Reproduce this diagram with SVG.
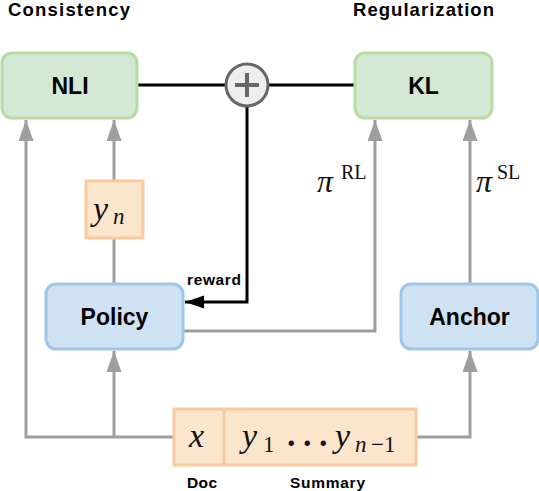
<svg xmlns="http://www.w3.org/2000/svg" width="539" height="491" viewBox="0 0 539 491">
<style>
.title{font-family:"Liberation Sans",Arial,sans-serif;font-weight:bold;font-size:18.5px;fill:#000}
.lbl{font-family:"Liberation Sans",Arial,sans-serif;font-weight:bold;font-size:23px;fill:#000;text-anchor:middle;dominant-baseline:central}
.small{font-family:"Liberation Sans",Arial,sans-serif;font-weight:bold;font-size:15.5px;fill:#000}
.math{font-family:"Liberation Serif","Times New Roman",serif;font-style:italic;fill:#111}
.rm{font-family:"Liberation Serif","Times New Roman",serif;fill:#111}
.green{fill:#d5e8d4;stroke:#b7dba6;stroke-width:3}
.blue{fill:#cfe2f3;stroke:#9fc5e8;stroke-width:3}
.orange{fill:#fce5cd;stroke:#f9cb9c;stroke-width:3}
.gray{fill:none;stroke:#9e9e9e;stroke-width:3}
.black{fill:none;stroke:#000;stroke-width:3}
</style>
<defs>
<marker id="ag" markerUnits="userSpaceOnUse" markerWidth="22" markerHeight="16" refX="21" refY="7.5" orient="auto">
<path d="M0,0 L21,7.5 L0,15 Z" fill="#9e9e9e"/>
</marker>
<marker id="ab" markerUnits="userSpaceOnUse" markerWidth="20" markerHeight="14" refX="19" refY="6.5" orient="auto">
<path d="M0,0 L19,6.5 L0,13 Z" fill="#000"/>
</marker>
</defs>
<text class="title" x="8" y="16" textLength="122">Consistency</text>
<text class="title" x="353" y="16" textLength="141">Regularization</text>
<g id="connectors">
<path class="black" d="M138,85 H226 M268,85 H355"/>
<path class="black" d="M247,106 V302 H185" marker-end="url(#ab)"/>
<path class="gray" d="M173,437 H26 V120" marker-end="url(#ag)"/>
<path class="gray" d="M114,437 V351" marker-end="url(#ag)"/>
<path class="gray" d="M114,284 V238"/>
<path class="gray" d="M114,180 V120" marker-end="url(#ag)"/>
<path class="gray" d="M183,331 H375 V120" marker-end="url(#ag)"/>
<path class="gray" d="M470,284 V120" marker-end="url(#ag)"/>
<path class="gray" d="M416,437 H470 V351" marker-end="url(#ag)"/>
<text class="small" x="187" y="285" textLength="54">reward</text>
<text class="math" x="317" y="192" font-size="32">π</text>
<text class="rm" x="341" y="179" font-size="20">RL</text>
<text class="math" x="476" y="192" font-size="32">π</text>
<text class="rm" x="497" y="179" font-size="20">SL</text>
</g>
<g id="nli">
<rect class="green" x="2" y="53" width="135" height="65" rx="10"/>
<text class="lbl" x="70" y="86">NLI</text>
</g>
<g id="plus">
<circle cx="247" cy="85" r="21" fill="#eeeeee" stroke="#666" stroke-width="3"/>
<path d="M235,85 H259 M247,73 V97" stroke="#666" stroke-width="4" fill="none"/>
</g>
<g id="kl">
<rect class="green" x="355" y="53" width="137" height="65" rx="10"/>
<text class="lbl" x="423.5" y="86">KL</text>
</g>
<g id="yn">
<rect class="orange" x="86" y="181" width="57" height="57"/>
<text class="math" x="93" y="220" font-size="34">y</text>
<text class="math" x="113" y="224" font-size="23">n</text>
</g>
<g id="policy">
<rect class="blue" x="46" y="284" width="137" height="65" rx="10"/>
<text class="lbl" x="114.5" y="317">Policy</text>
</g>
<g id="anchor">
<rect class="blue" x="401" y="284" width="137" height="65" rx="10"/>
<text class="lbl" x="469.5" y="317">Anchor</text>
</g>
<g id="input">
<rect class="orange" x="174" y="409" width="242" height="56"/>
<line x1="224" y1="409" x2="224" y2="465" stroke="#f9cb9c" stroke-width="3"/>
<text class="math" x="189" y="447" font-size="34">x</text>
<text class="math" x="242" y="447" font-size="34">y</text>
<text class="rm" x="263" y="452" font-size="23">1</text>
<text class="rm" x="287" y="446" font-size="34" font-weight="bold">.</text>
<text class="rm" x="303" y="446" font-size="34" font-weight="bold">.</text>
<text class="rm" x="319" y="446" font-size="34" font-weight="bold">.</text>
<text class="math" x="335" y="447" font-size="34">y</text>
<text class="math" x="355" y="452" font-size="23">n</text>
<text class="rm" x="371" y="452" font-size="23">−1</text>
<text class="small" x="187" y="488" textLength="30">Doc</text>
<text class="small" x="290" y="488" textLength="75">Summary</text>
</g>
</svg>
